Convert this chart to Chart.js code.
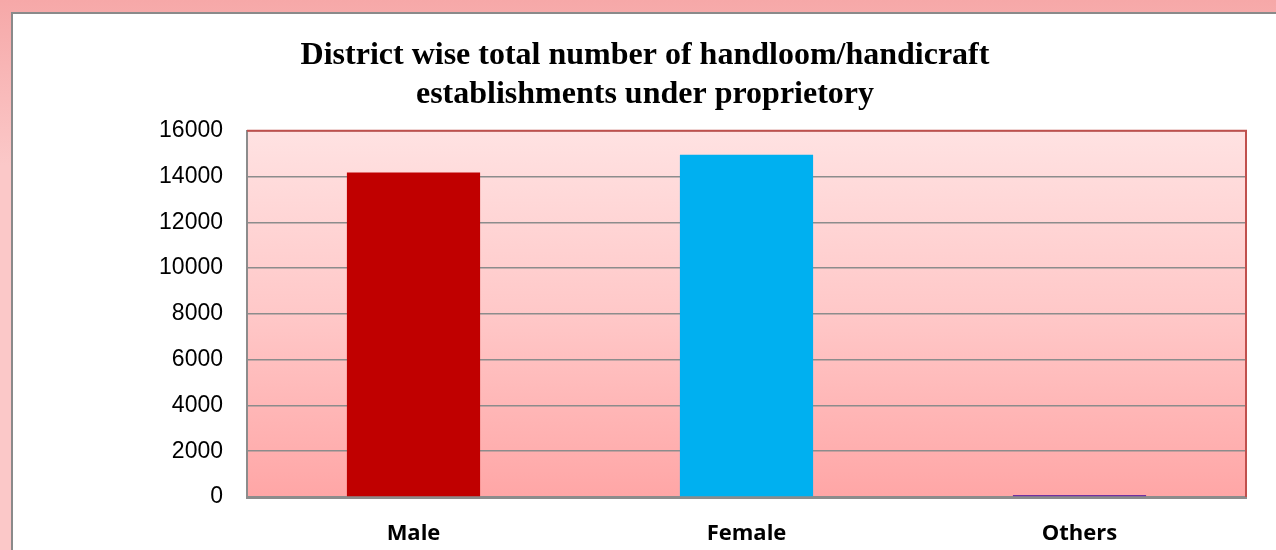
<!DOCTYPE html>
<html>
<head>
<meta charset="utf-8">
<script src="https://cdn.jsdelivr.net/npm/chart.js@4"></script>
<style>
  html, body { margin: 0; padding: 0; }
  body { width: 1276px; height: 550px; overflow: hidden; position: relative;
         background: linear-gradient(#f6a8a8, #fbc8c8 30%, #fbc8c8); }
  #frame { position: absolute; left: 11px; top: 12px; width: 1300px; height: 600px;
           border: 2px solid #8a8a8a; background: #fff; }
  #wrap { position: absolute; left: 0; top: 0; width: 1276px; height: 550px; }
</style>
</head>
<body>
<div id="frame"></div>
<div id="wrap"><canvas id="chart" width="1276" height="550"></canvas></div>
<script>
// data
const categories = ['Male', 'Female', 'Others'];
const establishments = [14180, 14950, 90];
const barColors = ['#c00000', '#00b0f0', '#7030a0'];
const titleLines = ['District wise total number of handloom/handicraft', 'establishments under proprietory'];

// pink gradient behind the plot, red border on top/right
const plotBackground = {
    id: 'plotBackground',
    beforeDraw(chart) {
        const { ctx, chartArea: a } = chart;
        const g = ctx.createLinearGradient(0, a.top, 0, a.bottom);
        g.addColorStop(0, '#ffe2e2');
        g.addColorStop(0.5, '#ffc8c8');
        g.addColorStop(1, '#ffa6a6');
        ctx.save();
        ctx.fillStyle = g;
        ctx.fillRect(a.left, a.top, a.right - a.left, a.bottom - a.top);
        ctx.restore();
    },
    afterDatasetsDraw(chart) {
        const { ctx, chartArea: a } = chart;
        ctx.save();
        ctx.strokeStyle = '#c0504d';
        ctx.lineWidth = 2;
        ctx.beginPath();
        ctx.moveTo(a.left, a.top);
        ctx.lineTo(a.right, a.top);
        ctx.lineTo(a.right, a.bottom);
        ctx.stroke();
        ctx.restore();
    }
};

var ctx = document.getElementById('chart').getContext('2d');
var chart = new Chart(ctx, {
    type: 'bar',
    data: {
        labels: categories,
        datasets: [{
            data: establishments,
            backgroundColor: barColors,
            categoryPercentage: 1,
            barPercentage: 0.4
        }]
    },
    options: {
        responsive: false,
        animation: false,
        layout: { padding: { left: 44, right: 30, top: 0, bottom: 0 } },
        plugins: {
            legend: { display: false },
            tooltip: { enabled: false },
            title: {
                display: true,
                text: titleLines,
                color: '#000',
                font: { family: '"Liberation Serif", "Times New Roman", serif', size: 32, weight: 'bold', lineHeight: 1.2 },
                padding: { top: 37, bottom: 17 }
            }
        },
        scales: {
            y: {
                min: 0,
                max: 16000,
                ticks: {
                    stepSize: 2000,
                    color: '#000',
                    padding: 24,
                    font: { family: '"Liberation Sans", Arial, sans-serif', size: 23 },
                    callback: (v) => String(v)
                },
                grid: { color: '#8c8c8c', lineWidth: 1.5, drawTicks: false },
                border: { color: '#8c8c8c', width: 2 },
                afterFit(scale) { scale.width = 203; }
            },
            x: {
                ticks: {
                    color: '#000',
                    padding: 16,
                    font: { family: '"Open Sans", "Liberation Sans", sans-serif', size: 22, weight: 'bold' }
                },
                grid: { display: false },
                border: { color: '#8c8c8c', width: 3 },
                afterFit(scale) { scale.height = 53; }
            }
        }
    },
    plugins: [plotBackground]
});
</script>
</body>
</html>
